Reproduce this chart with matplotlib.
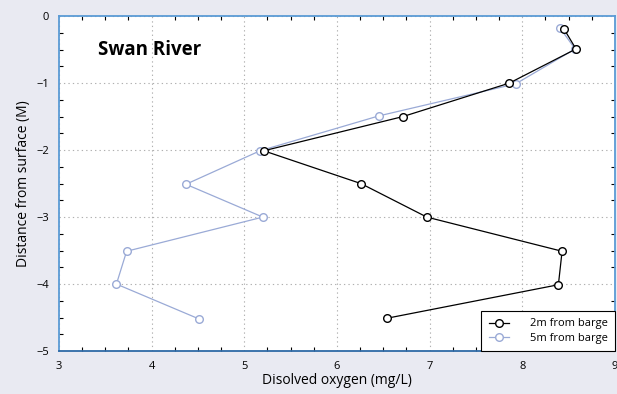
import matplotlib
matplotlib.use('Agg')
import matplotlib.pyplot as plt
from matplotlib.ticker import MultipleLocator

plt.rcParams['font.family'] = ['Open Sans', 'DejaVu Sans']

# depth (m, negative = below surface)
depth_2m = [-0.19, -0.49, -1.0, -1.5, -2.01, -2.5, -3.0, -3.51, -4.01, -4.51]
oxygen_2m = [8.45, 8.58, 7.86, 6.71, 5.21, 6.26, 6.97, 8.43, 8.39, 6.54]
depth_5m = [-0.18, -0.49, -1.01, -1.49, -2.01, -2.51, -3.0, -3.51, -4.0, -4.52]
oxygen_5m = [8.41, 8.57, 7.93, 6.45, 5.17, 4.37, 5.20, 3.73, 3.62, 4.51]

bg = '#e9eaf2'
fig = plt.figure(figsize=(6.17, 3.94), dpi=100, facecolor=bg)
ax = fig.add_axes([0.0956, 0.109, 0.901, 0.85])

ax.plot(oxygen_2m, depth_2m, color='black', lw=0.9, marker='o', ms=5.5,
        mfc='white', mec='black', mew=1.0, label='2m from barge', zorder=3)
ax.plot(oxygen_5m, depth_5m, color='#9aaad6', lw=0.9, marker='o', ms=5.5,
        mfc='white', mec='#9aaad6', mew=1.0, label='5m from barge', zorder=2)

ax.set_xlim(3, 9)
ax.set_ylim(-5, 0)
ax.xaxis.set_major_locator(MultipleLocator(1))
ax.xaxis.set_minor_locator(MultipleLocator(0.25))
ax.yaxis.set_major_locator(MultipleLocator(1))
ax.yaxis.set_minor_locator(MultipleLocator(0.25))
ax.tick_params(which='both', direction='in', top=True, right=True,
               labelsize=8, colors='black', pad=7)
ax.tick_params(which='major', length=0)
ax.tick_params(which='minor', length=3, width=0.8)
ax.grid(True, which='major', color='#b0b0b0', ls=(0, (1.2, 2.8)), lw=0.8)

for side in ['left', 'top', 'right']:
    ax.spines[side].set_color('#5b9bd5')
ax.spines['bottom'].set_color('#2e6aa6')
for sp in ax.spines.values():
    sp.set_linewidth(1.3)

ax.set_xlabel('Disolved oxygen (mg/L)', fontsize=10, labelpad=1)
ax.set_ylabel('Distance from surface (M)', fontsize=10, labelpad=4)
ax.text(0.07, 0.9, 'Swan River', transform=ax.transAxes, fontsize=13.5,
        fontweight='bold', va='center')

leg = ax.legend(loc='lower right', fontsize=8, frameon=True, fancybox=False,
                borderaxespad=0, handlelength=1.8, handletextpad=1.9,
                borderpad=0.65, labelspacing=0.3)
leg.get_frame().set_edgecolor('black')
leg.get_frame().set_linewidth(0.8)
leg.get_frame().set_alpha(1)

fig.savefig('out.png', dpi=100, facecolor=bg)
